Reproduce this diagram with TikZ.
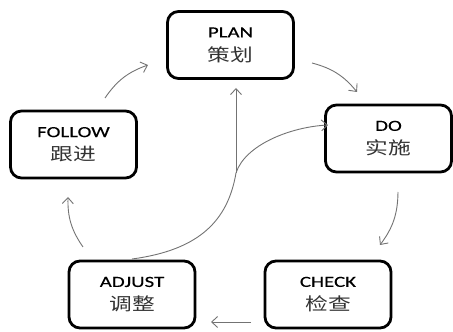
\documentclass[tikz,border=0pt]{standalone}
\usepackage{fontspec}
\setmainfont[FakeStretch=1.35,FakeBold=0.4]{Carlito}
\newfontfamily\cjk[FakeStretch=1.3]{Noto Sans CJK SC}
\usetikzlibrary{arrows.meta}
\begin{document}
\begin{tikzpicture}[x=1pt,y=1pt,
  stagebox/.style={draw=black, line width=2.8pt, rounded corners=11pt, fill=white,
    minimum width=126pt, minimum height=67pt, align=center, inner sep=0pt},
  flow/.style={draw=black!55, line width=0.9pt, -{Straight Barb[length=6pt,width=11pt]}},
  cyc/.style={flow, bend left=18}]
\useasboundingbox (0,0) rectangle (453,332);
\newcommand{\stagetext}[2]{{\fontsize{15.5}{16}\selectfont #1}\\[8pt]{\cjk\fontsize{17.5}{18}\selectfont\color{black!80} #2}}
\node[stagebox] (plan)   at (230.5,287)  {\stagetext{PLAN}{策划}};
\node[stagebox] (do)     at (388.5,193.5){\stagetext{DO}{实施}};
\node[stagebox] (follow) at (73.5,187.5) {\stagetext{FOLLOW}{跟进}};
\node[stagebox] (adjust) at (132,37.5)   {\stagetext{ADJUST}{调整}};
\node[stagebox] (check)  at (328,37.5)   {\stagetext{CHECK}{检查}};
\coordinate (a1s) at (105,234); \coordinate (a1e) at (148,267);
\coordinate (a2s) at (312,269); \coordinate (a2e) at (357,240);
\coordinate (a3s) at (398,140); \coordinate (a3e) at (380,87);
\coordinate (a4s) at (251,10);  \coordinate (a4e) at (211,10);
\coordinate (a5s) at (83,85);   \coordinate (a5e) at (68,135);
\coordinate (vs) at (236,159);  \coordinate (ve) at (236,244);
\coordinate (ss) at (132,73);   \coordinate (se) at (328,207);
\draw[cyc] (a1s) to (a1e);
\draw[cyc] (a2s) to (a2e);
\draw[cyc] (a3s) to (a3e);
\draw[flow] (a4s) -- (a4e);
\draw[cyc] (a5s) to (a5e);
\draw[flow] (vs) -- (ve);
\draw[flow] (ss) .. controls (200,82) and (228,112) .. (vs)
               .. controls (245,187) and (290,205) .. (se);
\end{tikzpicture}
\end{document}
